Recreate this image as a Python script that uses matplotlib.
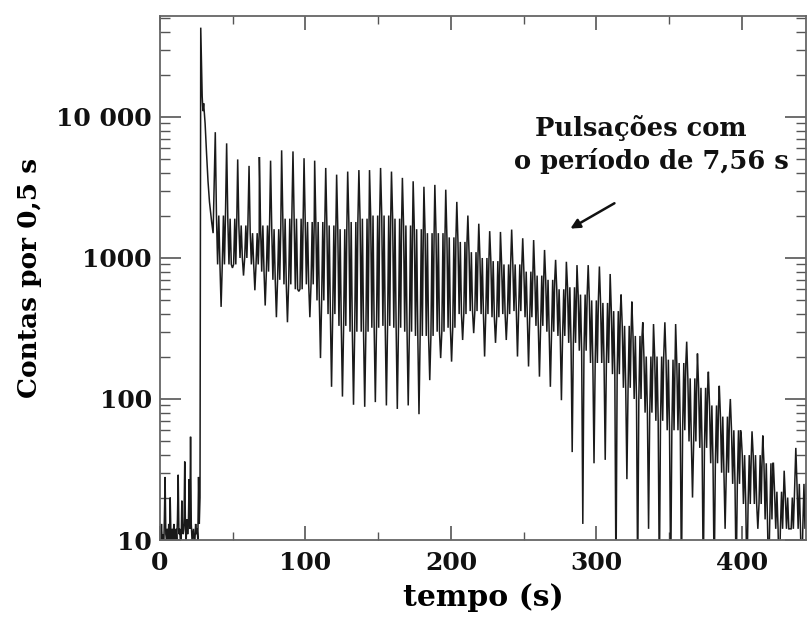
import matplotlib
matplotlib.use("Agg")
import matplotlib.pyplot as plt
import numpy as np
from matplotlib.ticker import FixedLocator, FixedFormatter, LogLocator, NullFormatter, MultipleLocator

plt.rcParams['font.family'] = ['DejaVu Serif']
plt.rcParams['font.weight'] = 'bold'

# Background counts before the burst, 0.5 s bins starting at t = 0
bg_step = 0.5
bg_counts = [12, 9, 13, 10, 11, 8, 14, 28, 11, 10, 12, 9, 13, 10, 20, 11,
             9, 12, 10, 13, 11, 9, 12, 10, 14, 29, 11, 12, 10, 9, 19, 12,
             11, 13, 36, 12, 10, 14, 11, 13, 27, 12, 54, 13, 10, 11, 12, 9,
             10, 13, 11, 12, 10, 28, 13, 20]

# Initial hard spike and its decay
burst_time = [28.0, 28.5, 29.0, 29.5, 30.0, 30.5, 31.0, 32.0, 33.0, 34.0, 35.5, 36.5]
burst_counts = [43000, 25000, 14000, 11000, 12500, 10500, 9000, 5500, 3500, 2500, 1800, 1500]

# Pulsating tail: one entry per 7.56 s pulse
peak_time = [38.0, 45.8, 53.4, 61.2, 68.3, 76.0, 83.6, 91.4, 99.0, 106.3,
             113.9, 121.4, 129.0, 136.7, 144.0, 151.6, 159.1, 166.6, 174.0, 181.4,
             188.9, 196.4, 204.0, 211.6, 219.1, 226.6, 234.0, 241.7, 249.3, 256.8,
             264.3, 271.9, 279.3, 286.6, 294.3, 302.0, 309.4, 316.9, 324.3, 331.8,
             339.2, 347.0, 354.4, 362.0, 369.4, 376.9, 384.4, 392.0, 399.4, 406.9,
             414.3, 421.6, 429.0, 437.0]
peak_counts = [7800, 6500, 5000, 4500, 5200, 4900, 5800, 5700, 5100, 4900,
               4350, 3900, 4100, 4200, 4200, 4350, 4100, 3700, 3500, 3200,
               3300, 3050, 2500, 2000, 1750, 1550, 1530, 1590, 1380, 1340,
               1140, 970, 940, 890, 890, 870, 770, 550, 490, 350,
               340, 350, 340, 255, 210, 156, 124, 100, 57, 59,
               55, 35, 31, 45]
upper_counts = [2000, 1900, 1700, 1500, 1700, 1600, 1900, 1900, 1800, 1800,
                1700, 1600, 1800, 1900, 2000, 2000, 1900, 1700, 1600, 1500,
                1500, 1400, 1300, 1100, 1000, 950, 900, 900, 800, 750,
                700, 600, 620, 550, 500, 480, 420, 330, 280, 200,
                200, 190, 180, 140, 120, 90, 75, 60, 40, 40,
                35, 22, 20, 25]
lower_counts = [900, 900, 1000, 900, 800, 700, 650, 600, 650, 500,
                400, 330, 300, 300, 320, 330, 320, 300, 280, 280,
                300, 320, 400, 420, 400, 380, 400, 420, 380, 330,
                300, 280, 250, 220, 180, 180, 150, 120, 100, 80,
                70, 60, 60, 50, 45, 35, 30, 25, 18, 18,
                14, 12, 12, 12]
trough_counts = [450, 850, 750, 590, 460, 380, 350, 580, 380, 195,
                 122, 104, 91, 88, 95, 90, 85, 90, 78, 136,
                 195, 184, 262, 293, 200, 250, 262, 200, 170, 144,
                 122, 98, 42, 13, 35, 37, 5, 27, 5, 12,
                 5, 5, 5, 20, 5, 5, 12, 5, 5, 12,
                 5, 5, 12, 5]

# Vertex pattern of one pulse: (seconds after the peak, which level)
profile = [(0.0, 'peak'), (0.8, 'upper'), (1.6, 'lower'), (2.4, 'upper'),
           (3.2, 'lower'), (4.0, 'trough'), (4.8, 'lower'), (5.6, 'upper'),
           (6.3, 'lower'), (7.0, 'upper')]

times = list(np.arange(len(bg_counts)) * bg_step) + burst_time
counts = list(bg_counts) + burst_counts
for k, T in enumerate(peak_time):
    level = {'peak': peak_counts[k], 'upper': upper_counts[k],
             'lower': lower_counts[k], 'trough': trough_counts[k]}
    for off, name in profile:
        times.append(T + off)
        counts.append(level[name])

fig = plt.figure(figsize=(8.07, 6.23), dpi=100)
ax = fig.add_axes([160 / 807, 1 - 540 / 623, (806 - 160) / 807, (540 - 16) / 623])

ax.plot(times, counts, color='#1a1a1a', lw=1.1, solid_joinstyle='miter')

ax.set_yscale('log')
ax.set_xlim(0, 444)
ax.set_ylim(10, 52000)

ax.yaxis.set_major_locator(FixedLocator([10, 100, 1000, 10000]))
ax.yaxis.set_major_formatter(FixedFormatter(['10', '100', '1000', '10 000']))
ax.yaxis.set_minor_locator(LogLocator(base=10, subs=np.arange(2, 10)))
ax.yaxis.set_minor_formatter(NullFormatter())
ax.xaxis.set_major_locator(FixedLocator([0, 100, 200, 300, 400]))
ax.xaxis.set_minor_locator(MultipleLocator(50))

for sp in ax.spines.values():
    sp.set_color('#666666')
    sp.set_linewidth(1.3)

ax.tick_params(axis='both', which='both', direction='in', top=True, right=True,
               colors='#555555', labelcolor='#111111')
ax.tick_params(axis='y', which='major', length=15, width=1.2, labelsize=18, pad=6)
ax.tick_params(axis='y', which='minor', length=7, width=1.0)
ax.tick_params(axis='x', which='major', length=10, width=1.2, labelsize=18, pad=8)
ax.tick_params(axis='x', which='minor', length=6, width=1.0)

ax.set_xlabel('tempo (s)', fontsize=21.5, fontweight='bold', labelpad=6)
ax.set_ylabel('Contas por 0,5 s', fontsize=19, fontweight='bold', labelpad=10)

ax.text(330.6, 8400, 'Pulsações com', fontsize=18.5, fontweight='bold',
        ha='center', va='center', color='#111111')
ax.text(337.5, 4850, 'o período de 7,56 s', fontsize=18.5, fontweight='bold',
        ha='center', va='center', color='#111111')
ax.annotate('', xy=(280.4, 1580), xytext=(314, 2500),
            arrowprops=dict(arrowstyle='-|>', color='#111111', lw=1.8,
                            mutation_scale=14))

fig.savefig('out.png', dpi=100)
